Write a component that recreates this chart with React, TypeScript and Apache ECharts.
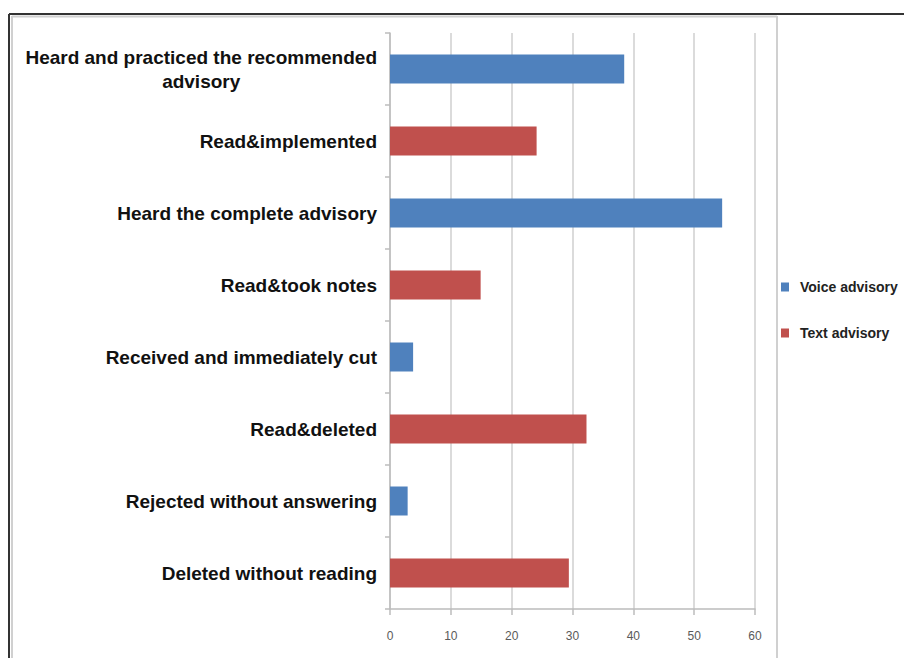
import React, { useEffect, useRef } from "react";
import * as echarts from "echarts";

const categories = [
  "Heard and practiced the recommended\nadvisory",
  "Read&implemented",
  "Heard the complete advisory",
  "Read&took notes",
  "Received and immediately cut",
  "Read&deleted",
  "Rejected without answering",
  "Deleted without reading",
];
const voiceValues: (number | string)[] = [38.5, "-", 54.6, "-", 3.8, "-", 2.9, "-"];
const textValues: (number | string)[] = ["-", 24.1, "-", 14.9, "-", 32.3, "-", 29.4];
const xTicks = { min: 0, max: 60, interval: 10 };
const seriesNames = ["Voice advisory", "Text advisory"];

const FONT = "'Liberation Sans', Arial, sans-serif";

export default function App() {
  const ref = useRef<HTMLDivElement>(null);
  useEffect(() => {
    if (!ref.current) return;
    const chart = echarts.init(ref.current, null, { renderer: "svg" });
    chart.setOption({
      animation: false,
      backgroundColor: "#ffffff",
      grid: { left: 390, right: 149, top: 33, bottom: 49, containLabel: false },
      legend: {
        orient: "vertical",
        left: 776,
        top: 274,
        itemWidth: 8,
        itemHeight: 9,
        itemGap: 30,
        icon: "rect",
        data: seriesNames,
        textStyle: {
          fontFamily: FONT,
          fontWeight: "bold",
          fontSize: 14,
          color: "#222",
          lineHeight: 16,
          padding: [0, 0, 0, 6],
        },
      },
      xAxis: {
        type: "value",
        min: xTicks.min,
        max: xTicks.max,
        interval: xTicks.interval,
        axisLine: { show: true, lineStyle: { color: "#bcbcbc", width: 1.5 } },
        axisTick: { show: true, length: 6, lineStyle: { color: "#bcbcbc", width: 1.5 } },
        splitLine: { show: true, lineStyle: { color: "#cfcfcf", width: 1.5 } },
        axisLabel: {
          margin: 21,
          fontFamily: FONT,
          fontSize: 12,
          color: "#5a5a5a",
        },
      },
      yAxis: {
        type: "category",
        inverse: true,
        data: categories,
        axisLine: { show: true, lineStyle: { color: "#bcbcbc", width: 1.5 } },
        axisTick: { show: true, length: 5, lineStyle: { color: "#bcbcbc", width: 1.5 } },
        axisLabel: {
          margin: 13,
          formatter: (v: string) =>
            v
              .split("\n")
              .map((s) => `{a|${s}}`)
              .join("\n"),
          rich: {
            a: {
              fontFamily: FONT,
              fontWeight: "bold",
              fontSize: 19,
              color: "#111",
              lineHeight: 24,
              align: "center",
            },
          },
        },
      },
      series: [
        {
          name: seriesNames[0],
          type: "bar",
          stack: "all",
          data: voiceValues,
          barWidth: 29,
          itemStyle: { color: "#4F81BD" },
        },
        {
          name: seriesNames[1],
          type: "bar",
          stack: "all",
          data: textValues,
          barWidth: 29,
          itemStyle: { color: "#C0504D" },
        },
      ],
      graphic: [
        { type: "line", shape: { x1: 12, y1: 16.5, x2: 777, y2: 16.5 }, style: { stroke: "#d0d0d0", lineWidth: 2 } },
        { type: "line", shape: { x1: 12, y1: 16, x2: 12, y2: 658 }, style: { stroke: "#d0d0d0", lineWidth: 2 } },
        { type: "line", shape: { x1: 777, y1: 16, x2: 777, y2: 658 }, style: { stroke: "#d0d0d0", lineWidth: 2 } },
        { type: "line", shape: { x1: 9, y1: 14, x2: 904, y2: 14 }, style: { stroke: "#333", lineWidth: 2 } },
        { type: "line", shape: { x1: 9, y1: 14, x2: 9, y2: 658 }, style: { stroke: "#333", lineWidth: 2 } },
      ],
    });
    return () => chart.dispose();
  }, []);
  return (
    <div
      ref={ref}
      style={{ position: "fixed", left: 0, top: 0, width: 904, height: 658 }}
    />
  );
}
